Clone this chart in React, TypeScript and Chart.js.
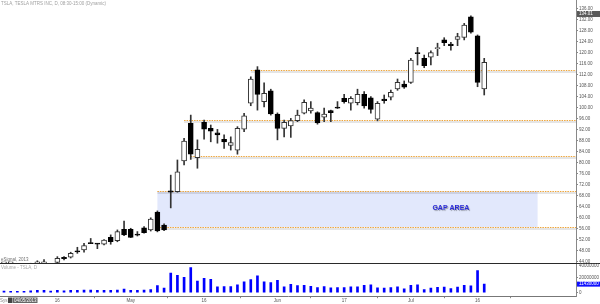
import React, { useEffect, useRef } from "react";
import { Chart, registerables } from "chart.js";

Chart.register(...registerables);

// ---------- data ----------
const dates = [
  "04-04", "04-05", "04-08", "04-09", "04-10", "04-11", "04-12", "04-15", "04-16", "04-17",
  "04-18", "04-19", "04-22", "04-23", "04-24", "04-25", "04-26", "04-29", "04-30", "05-01",
  "05-02", "05-03", "05-06", "05-07", "05-08", "05-09", "05-10", "05-13", "05-14", "05-15",
  "05-16", "05-17", "05-20", "05-21", "05-22", "05-23", "05-24", "05-28", "05-29", "05-30",
  "05-31", "06-03", "06-04", "06-05", "06-06", "06-07", "06-10", "06-11", "06-12", "06-13",
  "06-14", "06-17", "06-18", "06-19", "06-20", "06-21", "06-24", "06-25", "06-26", "06-27",
  "06-28", "07-01", "07-02", "07-03", "07-05", "07-08", "07-09", "07-10", "07-11", "07-12",
  "07-15", "07-16", "07-17",
];

const opens = [
  40.9, 41.0, 41.3, 42.3, 42.0, 43.2, 43.0, 42.9, 43.8, 45.3,
  45.7, 47.7, 48.3, 50.75, 50.5, 50.4, 52.9, 51.7, 55.8, 55.8,
  53.8, 56.4, 55.6, 62.1, 57.4, 69.8, 69.5, 80.7, 94.3, 81.8,
  94.7, 92.5, 90.9, 88.5, 86.3, 84.6, 92.2, 101.6, 113.7, 102.2,
  106.1, 97.7, 92.5, 93.4, 95.3, 98.0, 98.8, 98.2, 96.5, 98.9,
  100.1, 103.4, 101.6, 101.8, 104.8, 103.6, 95.8, 103.1, 103.8, 106.8,
  108.6, 109.2, 120.0, 117.9, 118.3, 121.4, 124.6, 123.1, 124.8, 125.5,
  133.0, 126.1, 106.8,
];
const highs = [
  41.9, 41.5, 42.5, 42.6, 43.5, 44.4, 44.8, 43.4, 45.9, 45.9,
  47.5, 49.3, 50.7, 52.5, 50.7, 52.1, 53.8, 55.6, 58.8, 56.2,
  55.0, 56.8, 60.0, 62.5, 57.8, 75.5, 81.0, 88.9, 97.3, 88.3,
  95.5, 93.7, 92.1, 90.1, 89.4, 93.1, 97.9, 111.2, 114.9, 109.0,
  106.7, 98.1, 95.5, 96.1, 99.1, 102.8, 102.2, 98.5, 99.8, 99.1,
  102.2, 104.8, 104.0, 106.7, 105.8, 104.0, 102.2, 104.6, 106.4, 110.4,
  109.7, 117.9, 121.9, 119.1, 120.6, 123.4, 125.4, 123.7, 127.0, 130.6,
  133.3, 126.4, 117.9,
];
const lows = [
  40.3, 40.6, 41.0, 41.5, 41.9, 42.8, 42.6, 41.8, 43.2, 44.7,
  45.4, 47.1, 47.5, 50.6, 48.8, 50.2, 50.4, 51.3, 53.5, 52.8,
  53.4, 54.4, 55.2, 54.9, 55.3, 63.6, 69.3, 79.2, 81.2, 78.0,
  88.6, 87.6, 87.1, 85.2, 84.6, 83.1, 91.3, 100.7, 99.1, 100.3,
  97.3, 88.3, 89.4, 89.2, 94.9, 97.7, 98.0, 94.0, 94.9, 94.9,
  99.7, 101.6, 99.1, 101.0, 99.8, 98.0, 95.2, 101.6, 102.8, 106.3,
  107.0, 108.8, 115.5, 114.5, 115.5, 118.9, 122.5, 120.9, 122.5, 124.6,
  127.0, 107.6, 104.6,
];
const closes = [
  41.2, 41.1, 42.3, 41.8, 43.2, 43.3, 43.1, 42.2, 45.3, 45.2,
  47.1, 47.6, 49.9, 50.6, 50.4, 51.9, 51.3, 55.0, 53.8, 52.9,
  53.7, 54.6, 59.5, 55.2, 55.6, 69.3, 76.7, 87.9, 83.1, 84.9,
  92.2, 91.5, 90.1, 87.6, 87.3, 92.5, 97.0, 110.4, 104.8, 105.2,
  97.7, 92.5, 94.7, 95.3, 97.3, 101.9, 99.8, 94.5, 97.7, 98.2,
  99.8, 102.2, 103.4, 104.8, 100.6, 99.4, 101.6, 102.5, 105.6, 109.2,
  107.4, 117.3, 119.6, 115.2, 120.0, 121.6, 123.6, 122.5, 125.8, 130.0,
  127.4, 109.2, 116.5,
];
const volumes = [
  2100000, 1700000, 1700000, 1700000, 2600000, 3000000, 3000000, 2100000, 3000000, 2600000,
  3000000, 3000000, 3400000, 3400000, 3000000, 3000000, 3000000, 3400000, 4700000, 3000000,
  3000000, 3400000, 4300000, 9600000, 6000000, 26000000, 23100000, 20400000, 33600000, 15400000,
  19100000, 17900000, 7700000, 8100000, 8100000, 10600000, 14500000, 17400000, 22600000, 14500000,
  13600000, 16600000, 7700000, 11100000, 9400000, 9800000, 8500000, 6800000, 8100000, 6400000,
  6800000, 6800000, 7700000, 7700000, 9800000, 10600000, 6400000, 6000000, 6800000, 7700000,
  5000000, 9800000, 10400000, 4000000, 6300000, 7000000, 7400000, 5500000, 7400000, 9800000,
  9300000, 29600000, 11430000,
];

const priceTicks = [44, 48, 52, 56, 60, 64, 68, 72, 76, 80, 84, 88, 92, 96, 100, 104, 108, 112, 116, 120, 124, 128, 132, 136];
const volumeTicks = [0, 20000000];
const volumeTopLabel = "40000000";
const xTickDates = ["04-16", "05-01", "05-16", "06-03", "06-17", "07-01", "07-16"];
const xTickText = ["16", "May", "16", "Jun", "17", "Jul", "16"];

const levelPrices = [113.7, 95.5, 82.6, 69.7, 56.6];
const levelStartDates = ["05-28", "05-13", "05-14", "05-07", "05-07"];
const gapTop = 69.7;
const gapBottom = 56.6;
const gapStartDate = "05-07";
const gapBars = 57;
const gapLabel = "GAP AREA";
const gapLabelDate = "07-10";
const gapLabelPrice = 63.7;
const markerPrice = 134.01;
const titleText = "TSLA, TESLA MTRS INC, D, 08:30-15:00 (Dynamic)";
const copyrightText = "eSignal, 2013";
const volumeTitle = "Volume - TSLA, D";
const cursorDate = "04/05/2013";

const FONT = "'Liberation Sans', Arial, sans-serif";

export default function App() {
  const priceRef = useRef<HTMLCanvasElement>(null);
  const volRef = useRef<HTMLCanvasElement>(null);

  useEffect(() => {
    const xMin = -0.6;
    const xMax = 85.76;
    const tickIdx = xTickDates.map((d) => dates.indexOf(d));

    const fixY = (scale: any) => {
      scale.width = 24;
      scale.paddingTop = 0;
      scale.paddingBottom = 0;
    };

    const pricePlugin = {
      id: "priceDecor",
      beforeDatasetsDraw(chart: any) {
        const ctx = chart.ctx;
        const xs = chart.scales.x;
        const ys = chart.scales.y;
        const area = chart.chartArea;
        ctx.save();
        // gap box
        const gi = dates.indexOf(gapStartDate);
        const gx0 = xs.getPixelForValue(gi);
        const gx1 = xs.getPixelForValue(gi + gapBars);
        const gy0 = ys.getPixelForValue(gapTop);
        const gy1 = ys.getPixelForValue(gapBottom);
        ctx.fillStyle = "rgb(226,232,252)";
        ctx.fillRect(gx0, gy0, gx1 - gx0, gy1 - gy0);
        // levels
        levelPrices.forEach((p, k) => {
          const x0 = xs.getPixelForValue(dates.indexOf(levelStartDates[k]));
          const y = Math.round(ys.getPixelForValue(p)) + 0.5;
          ctx.setLineDash([]);
          ctx.strokeStyle = "rgba(0,0,0,0.10)";
          ctx.lineWidth = 2;
          ctx.beginPath();
          ctx.moveTo(x0, y + 1.5);
          ctx.lineTo(area.right, y + 1.5);
          ctx.stroke();
          ctx.strokeStyle = "#eea53a";
          ctx.lineWidth = 1;
          ctx.setLineDash([1.5, 1]);
          ctx.beginPath();
          ctx.moveTo(x0, y);
          ctx.lineTo(area.right, y);
          ctx.stroke();
        });
        ctx.restore();
      },
      afterDraw(chart: any) {
        const ctx = chart.ctx;
        const xs = chart.scales.x;
        const ys = chart.scales.y;
        const area = chart.chartArea;
        ctx.save();
        ctx.setLineDash([]);
        // title
        ctx.font = `4.5px ${FONT}`;
        ctx.fillStyle = "#a0a0a0";
        ctx.textBaseline = "middle";
        ctx.textAlign = "left";
        ctx.fillText(titleText, 1, 4);
        ctx.fillStyle = "#707070";
        ctx.fillText(copyrightText, 1, 259.5);
        // gap label
        ctx.font = `bold 7px ${FONT}`;
        ctx.textAlign = "center";
        ctx.shadowColor = "rgba(0,0,0,0.35)";
        ctx.shadowOffsetX = 1;
        ctx.shadowOffsetY = 1;
        ctx.shadowBlur = 1;
        ctx.fillStyle = "#2a2ad8";
        ctx.fillText(gapLabel, xs.getPixelForValue(dates.indexOf(gapLabelDate)), ys.getPixelForValue(gapLabelPrice));
        ctx.shadowColor = "transparent";
        // marker label
        const my = ys.getPixelForValue(markerPrice);
        ctx.fillStyle = "#5a5a5a";
        ctx.fillRect(area.right + 1, my - 3, 23, 6);
        ctx.fillStyle = "#ffffff";
        ctx.font = `4.5px ${FONT}`;
        ctx.textAlign = "left";
        ctx.fillText(markerPrice.toFixed(2), area.right + 3, my);
        ctx.restore();
      },
    };

    const priceChart = new Chart(priceRef.current!, {
      type: "bar",
      data: {
        datasets: [
          {
            label: "body",
            data: dates.map((_, i) => ({ x: i, y: [opens[i], closes[i]] })) as any,
            backgroundColor: dates.map((_, i) => (closes[i] >= opens[i] ? "#ffffff" : "#000000")),
            borderColor: dates.map((_, i) => (closes[i] >= opens[i] ? "#333333" : "#000000")),
            borderWidth: 1,
            borderSkipped: false,
            barThickness: 5,
            minBarLength: 1.2,
            grouped: false,
            order: 0,
          } as any,
          {
            label: "wick",
            data: dates.map((_, i) => ({ x: i, y: [lows[i], highs[i]] })) as any,
            backgroundColor: "#333333",
            borderWidth: 0,
            barThickness: 1,
            grouped: false,
            order: 1,
          } as any,
        ],
      },
      options: {
        animation: false,
        responsive: false,
        maintainAspectRatio: false,
        events: [],
        layout: { padding: 0 },
        plugins: { legend: { display: false }, tooltip: { enabled: false } },
        scales: {
          x: { type: "linear", min: xMin, max: xMax, offset: false, display: false },
          y: {
            type: "linear",
            position: "right",
            min: 43.59,
            max: 139.09,
            afterFit: fixY,
            afterBuildTicks: (s: any) => {
              s.ticks = priceTicks.map((v) => ({ value: v }));
            },
            ticks: {
              autoSkip: false,
              padding: 1,
              color: "#555",
              font: { size: 4.5, family: FONT },
              callback: (v: any) => Number(v).toFixed(2),
            },
            grid: { drawOnChartArea: false, tickLength: 2, color: "#888" },
            border: { display: true, color: "#888" },
          },
        },
      } as any,
      plugins: [pricePlugin],
    });

    const volPlugin = {
      id: "volDecor",
      afterDraw(chart: any) {
        const ctx = chart.ctx;
        const ys = chart.scales.y;
        const area = chart.chartArea;
        ctx.save();
        ctx.strokeStyle = "#2a2a2a";
        ctx.lineWidth = 1;
        ctx.beginPath();
        ctx.moveTo(0, 0.5);
        ctx.lineTo(600, 0.5);
        ctx.stroke();
        ctx.font = `4.5px ${FONT}`;
        ctx.textBaseline = "middle";
        ctx.textAlign = "left";
        ctx.fillStyle = "#555";
        ctx.fillText(volumeTopLabel, area.right + 3, 2.8);
        ctx.fillStyle = "#a8a8a8";
        ctx.fillText(volumeTitle, 1, 5.2);
        // last volume marker
        const last = volumes[volumes.length - 1];
        const vy = ys.getPixelForValue(last);
        ctx.fillStyle = "#1010ff";
        ctx.fillRect(area.right + 1, vy - 2.5, 23, 5);
        ctx.fillStyle = "#ffffff";
        ctx.fillText(String(last), area.right + 3, vy);
        // bottom-left cursor date
        ctx.fillStyle = "#888";
        ctx.fillText("Sys", 0, 37.5);
        ctx.fillStyle = "#444";
        ctx.fillRect(8, 34.5, 4.5, 5.5);
        ctx.fillStyle = "#666";
        ctx.fillRect(13, 34.5, 24.5, 5.5);
        ctx.fillStyle = "#ffffff";
        ctx.fillText(cursorDate, 14, 37.4);
        ctx.restore();
      },
    };

    const volChart = new Chart(volRef.current!, {
      type: "bar",
      data: {
        datasets: [
          {
            label: "volume",
            data: volumes.map((v, i) => ({ x: i, y: v })) as any,
            backgroundColor: "#0000ff",
            barThickness: 2,
            borderWidth: 0,
          } as any,
        ],
      },
      options: {
        animation: false,
        responsive: false,
        maintainAspectRatio: false,
        events: [],
        layout: { padding: 0 },
        plugins: { legend: { display: false }, tooltip: { enabled: false } },
        scales: {
          x: {
            type: "linear",
            min: xMin,
            max: xMax,
            offset: false,
            afterFit: (s: any) => {
              s.height = 7.3;
              s.paddingLeft = 0;
              s.paddingRight = 0;
            },
            afterBuildTicks: (s: any) => {
              s.ticks = tickIdx.map((v) => ({ value: v }));
            },
            ticks: {
              autoSkip: false,
              maxRotation: 0,
              padding: 0,
              color: "#555",
              font: { size: 4.5, family: FONT },
              callback: (_v: any, index: number) => xTickText[index],
            },
            grid: { drawOnChartArea: false, tickLength: 1.5, color: "#888" },
            border: { display: true, color: "#777" },
          },
          y: {
            type: "linear",
            position: "right",
            min: -5330000,
            max: 39600000,
            afterFit: fixY,
            afterBuildTicks: (s: any) => {
              s.ticks = volumeTicks.map((v) => ({ value: v }));
            },
            ticks: {
              autoSkip: false,
              padding: 1,
              color: "#555",
              font: { size: 4.5, family: FONT },
              callback: (v: any) => String(v),
            },
            grid: { drawOnChartArea: false, tickLength: 2, color: "#888" },
            border: { display: true, color: "#888" },
          },
        },
      } as any,
      plugins: [volPlugin],
    });

    return () => {
      priceChart.destroy();
      volChart.destroy();
    };
  }, []);

  return (
    <div style={{ position: "absolute", left: 0, top: 0, width: 600, height: 304, background: "#fff", overflow: "hidden" }}>
      <canvas ref={priceRef} width={600} height={263} style={{ position: "absolute", left: 0, top: 0, width: 600, height: 263 }} />
      <canvas ref={volRef} width={600} height={41} style={{ position: "absolute", left: 0, top: 263, width: 600, height: 41 }} />
    </div>
  );
}
